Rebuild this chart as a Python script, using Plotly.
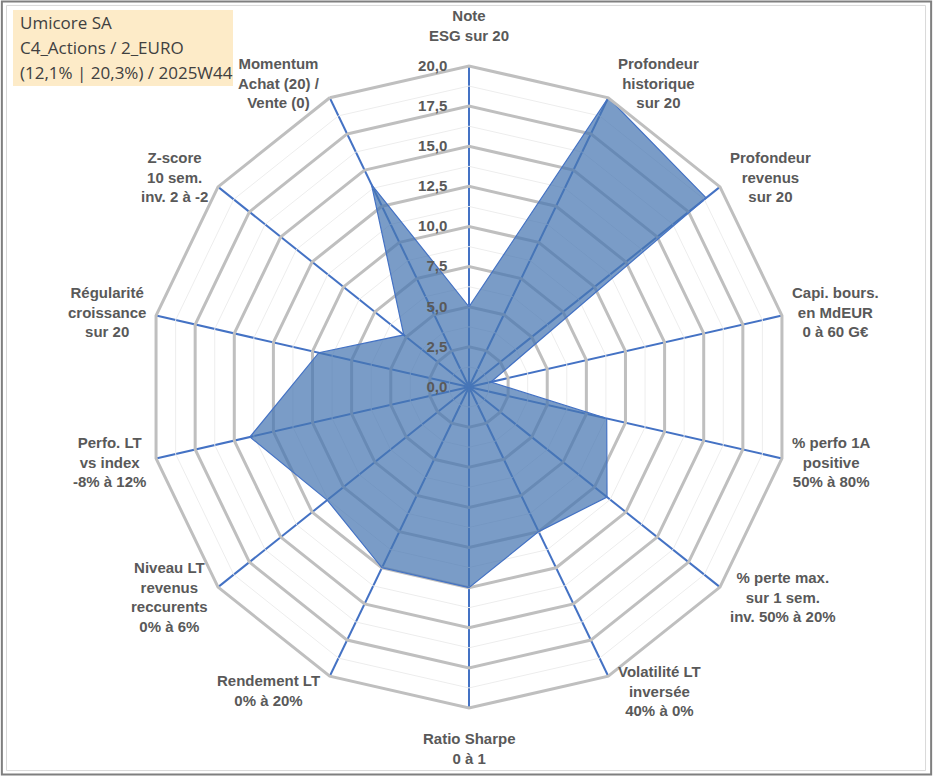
import math
import plotly.graph_objects as go

# axes du radar (dans l'ordre horaire depuis le haut)
axes = [
    "Note<br>ESG sur 20",
    "Profondeur<br>historique<br>sur 20",
    "Profondeur<br>revenus<br>sur 20",
    "Capi. bours.<br>en MdEUR<br>0 à 60 G€",
    "% perfo 1A<br>positive<br>50% à 80%",
    "% perte max.<br>sur 1 sem.<br>inv. 50% à 20%",
    "Volatilité LT<br>inversée<br>40% à 0%",
    "Ratio Sharpe<br>0 à 1",
    "Rendement LT<br>0% à 20%",
    "Niveau LT<br>revenus<br>reccurents<br>0% à 6%",
    "Perfo. LT<br>vs index<br>-8% à 12%",
    "Régularité<br>croissance<br>sur 20",
    "Z-score<br>10 sem.<br>inv. 2 à -2",
    "Momentum<br>Achat (20) /<br>Vente (0)",
]
notes = [5.0, 20.0, 18.9, 1.4, 8.8, 11.0, 10.0, 12.5, 12.5, 11.3, 14.0, 9.6, 5.2, 14.0]

ticks = [0, 2.5, 5, 7.5, 10, 12.5, 15, 17.5, 20]
minor_levels = [1.25, 3.75, 6.25, 8.75, 11.25, 13.75, 16.25, 18.75]

titre = ["Umicore SA", "C4_Actions / 2_EURO", "(12,1% | 20,3%) / 2025W44"]

W, H = 933, 776
cx, cy, R = 469, 387, 321   # centre et rayon du radar en pixels

fig = go.Figure()

# petites lignes de grille intermediaires
for lvl in minor_levels:
    fig.add_trace(go.Scatterpolar(
        r=[lvl] * (len(axes) + 1), theta=axes + axes[:1],
        mode="lines", line=dict(color="#EDEDED", width=1),
        hoverinfo="skip", showlegend=False))

fig.add_trace(go.Scatterpolar(
    r=notes + notes[:1], theta=axes + axes[:1],
    mode="lines", fill="toself",
    fillcolor="rgba(70,118,178,0.72)",
    line=dict(color="#4472C4", width=1.2),
    showlegend=False))

annots = []
# libelles des axes, centres comme dans Excel
n = len(axes)
for i, lab in enumerate(axes):
    a = math.radians(i * 360 / n)
    s, c = math.sin(a), math.cos(a)
    vx, vy = cx + R * s, cy - R * c
    if abs(s) < 0.1:
        xa = "center"
        x = vx
        ya = "bottom" if c > 0 else "top"
        y = vy - 20 if c > 0 else vy + 20
    else:
        xa = "left" if s > 0 else "right"
        x = vx + (8 if s > 0 else -8)
        ya = "middle"
        y = cy - R * 1.05 * c
    annots.append(dict(
        text=lab, xref="paper", yref="paper", x=x / W, y=1 - y / H,
        xanchor=xa, yanchor=ya, align="center", showarrow=False,
        font=dict(family="Liberation Sans", size=15, color="#595959", weight="bold")))

# cadre du titre (en pixels)
bx0, by0, bx1, by1 = 13, 10, 233, 86
for i, line in enumerate(titre):
    annots.append(dict(
        text=line, xref="paper", yref="paper",
        x=(bx0 + 5) / W, y=1 - (22 + 25 * i) / H,
        xanchor="left", yanchor="middle", showarrow=False,
        font=dict(family="Open Sans", size=17, color="#404040")))

fig.update_layout(
    width=W, height=H,
    margin=dict(l=0, r=0, t=0, b=0),
    paper_bgcolor="white",
    separators=",.",
    font=dict(family="Liberation Sans", color="#595959"),
    polar=dict(
        domain=dict(x=[(cx - R) / W, (cx + R) / W],
                    y=[1 - (cy + R) / H, 1 - (cy - R) / H]),
        bgcolor="white",
        gridshape="linear",
        angularaxis=dict(
            direction="clockwise", rotation=90,
            showgrid=True, gridcolor="#4472C4", gridwidth=1.6,
            showline=True, linecolor="#BFBFBF", linewidth=3,
            showticklabels=False, ticks="",
        ),
        radialaxis=dict(
            range=[0, 20], tickvals=ticks, tickformat=".1f",
            angle=90, tickangle=90, side="counterclockwise",
            showline=False, gridcolor="#BFBFBF", gridwidth=3,
            ticks="outside", ticklen=16, tickcolor="rgba(0,0,0,0)",
            tickfont=dict(size=15, color="#595959", family="Liberation Sans", weight="bold"),
        ),
    ),
    shapes=[
        dict(type="rect", xref="paper", yref="paper",
             x0=bx0 / W, x1=bx1 / W, y0=1 - by1 / H, y1=1 - by0 / H,
             fillcolor="#FDEBC8", line=dict(width=0), layer="below"),
        dict(type="rect", xref="paper", yref="paper", x0=0.002, y0=0.002, x1=0.998, y1=0.998,
             line=dict(color="#7F7F7F", width=2)),
        dict(type="rect", xref="paper", yref="paper", x0=0.007, y0=0.007, x1=0.992, y1=0.993,
             line=dict(color="#D9D9D9", width=1)),
    ],
    annotations=annots,
)

# pas de marge autour du graphique dans la page, pas de barre d'outils
fig.write_html("out.html", config={"displayModeBar": False},
               post_script="document.body.style.margin='0';")
